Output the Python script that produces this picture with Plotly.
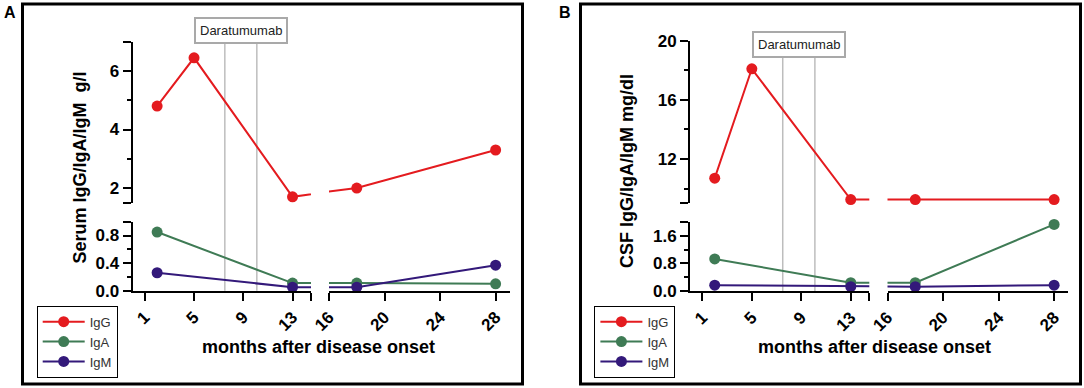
import numpy as np
import plotly.graph_objects as go

# ---------------- data ----------------
igg_months = [2, 5, 13, 18, 28]
iga_months = [2, 13, 18, 28]
igm_months = [2, 13, 18, 28]

serum_igg = [4.8, 6.45, 1.7, 2.0, 3.3]
serum_iga = [0.85, 0.11, 0.11, 0.10]
serum_igm = [0.26, 0.05, 0.05, 0.37]

csf_igg = [10.7, 18.1, 9.25, 9.25, 9.25]
csf_iga = [0.93, 0.24, 0.24, 1.93]
csf_igm = [0.17, 0.125, 0.125, 0.17]

series_names = ["IgG", "IgA", "IgM"]
series_colors = ["#e41b1f", "#3f7b55", "#33197a"]

dara_start, dara_end = 7.5, 10.1
dara_label = "Daratumumab"

x_left_ticks = [1, 5, 9, 13]
x_right_ticks = [16, 20, 24, 28]
x_left_range = [0, 14.5]
x_right_range = [16, 29]

serum_top_ticks = [2, 4, 6]
serum_top_minor = [3, 5]
serum_top_range = [1.5, 7]
serum_bot_ticks = [0.0, 0.4, 0.8]
serum_bot_minor = [0.2, 0.6]
serum_bot_range = [0, 1.0]

csf_top_ticks = [12, 16, 20]
csf_top_minor = [10, 14, 18]
csf_top_range = [9, 20]
csf_bot_ticks = [0.0, 0.8, 1.6]
csf_bot_minor = [0.4, 1.2]
csf_bot_range = [0, 2.0]

x_title = "months after disease onset"
y_titles = ["Serum IgG/IgA/IgM  g/l", "CSF IgG/IgA/IgM mg/dl"]
panel_letters = ["A", "B"]

# ---------------- layout helpers ----------------
W, H = 1084, 388
FONT = "Liberation Sans, Arial, Helvetica, sans-serif"


def fx(p):
    return p / W


def fy(p):
    return 1 - p / H


panels = [
    dict(
        letter=panel_letters[0], ytitle=y_titles[0],
        data=[(igg_months, serum_igg), (iga_months, serum_iga), (igm_months, serum_igm)],
        top=(serum_top_ticks, serum_top_minor, serum_top_range),
        bot=(serum_bot_ticks, serum_bot_minor, serum_bot_range),
        xl=(132.5, 311.0), xr=(329.0, 509.5),
        ytop=(41.7, 202.7), ybot=(221.7, 290.7),
        frame=(22.5, 522.5), box_y=30.3,
        ytitle_x=79.5, ytitle_y=168, xtitle_x=318.5, letter_x=10,
        legend_x=36.7,
    ),
    dict(
        letter=panel_letters[1], ytitle=y_titles[1],
        data=[(igg_months, csf_igg), (iga_months, csf_iga), (igm_months, csf_igm)],
        top=(csf_top_ticks, csf_top_minor, csf_top_range),
        bot=(csf_bot_ticks, csf_bot_minor, csf_bot_range),
        xl=(690.0, 869.3), xr=(887.5, 1068.0),
        ytop=(40.7, 203.3), ybot=(222.0, 291.0),
        frame=(580.5, 1080.5), box_y=44.0,
        ytitle_x=627, ytitle_y=171, xtitle_x=874, letter_x=564.5,
        legend_x=594.4,
    ),
]

fig = go.Figure()
layout = dict(
    width=W, height=H, autosize=False,
    margin=dict(l=0, r=0, t=0, b=0, pad=0, autoexpand=False),
    paper_bgcolor="white", plot_bgcolor="rgba(0,0,0,0)",
    font=dict(family=FONT, color="black"),
    shapes=[], annotations=[],
)

tickfont = dict(family=FONT, size=17, color="black", weight="bold")


def fmt(v, dec):
    return f"{v:.{dec}f}"


for pi, P in enumerate(panels):
    n = pi * 4
    xa = [f"x{n + k}" if n + k > 1 else "x" for k in (1, 2, 3, 4)]
    ya_n = pi * 2
    yb = f"y{ya_n + 1}" if ya_n + 1 > 1 else "y"
    yt = f"y{ya_n + 2}"

    def axkey(a):
        return a.replace("x", "xaxis").replace("y", "yaxis")

    xdl = [fx(P["xl"][0]), fx(P["xl"][1])]
    xdr = [fx(P["xr"][0]), fx(P["xr"][1])]
    ydt = [fy(P["ytop"][1]), fy(P["ytop"][0])]
    ydb = [fy(P["ybot"][1]), fy(P["ybot"][0])]

    common_x = dict(showgrid=False, zeroline=False, showline=True, linecolor="black",
                    linewidth=2, ticks="outside", ticklen=8, tickwidth=2, tickcolor="black",
                    tickangle=-45, tickfont=tickfont, tickmode="array", fixedrange=True,
                    automargin=False)
    layout[axkey(xa[0])] = dict(common_x, domain=xdl, range=x_left_range, anchor=yb,
                                tickvals=x_left_ticks + [x_left_range[1]],
                                ticktext=[str(v) for v in x_left_ticks] + [""])
    layout[axkey(xa[1])] = dict(common_x, domain=xdr, range=x_right_range, anchor=yb,
                                tickvals=x_right_ticks,
                                ticktext=[str(v) for v in x_right_ticks])
    layout[axkey(xa[2])] = dict(domain=xdl, range=x_left_range, anchor=yt, visible=False,
                                fixedrange=True, automargin=False)
    layout[axkey(xa[3])] = dict(domain=xdr, range=x_right_range, anchor=yt, visible=False,
                                fixedrange=True, automargin=False)

    common_y = dict(showgrid=False, zeroline=False, showline=True, linecolor="black",
                    linewidth=2, ticks="outside", ticklen=8, tickwidth=2, tickcolor="black",
                    tickfont=tickfont, tickmode="array", fixedrange=True, automargin=False)
    bt, bm, br = P["bot"]
    tt, tm, tr = P["top"]
    layout[axkey(yb)] = dict(common_y, domain=ydb, range=br, anchor=xa[0],
                             tickvals=bt + [br[1]], ticktext=[fmt(v, 1) for v in bt] + [""],
                             minor=dict(tickmode="array", tickvals=bm, ticks="outside",
                                        ticklen=4, tickwidth=2, tickcolor="black"))
    layout[axkey(yt)] = dict(common_y, domain=ydt, range=tr, anchor=xa[2],
                             tickvals=[tr[0]] + tt + ([tr[1]] if tr[1] not in tt else []),
                             ticktext=[""] + [fmt(v, 0) for v in tt] + ([""] if tr[1] not in tt else []),
                             minor=dict(tickmode="array", tickvals=tm, ticks="outside",
                                        ticklen=4, tickwidth=2, tickcolor="black"))

    subplots = [
        (xa[0], yb, x_left_range, br),
        (xa[1], yb, x_right_range, br),
        (xa[2], yt, x_left_range, tr),
        (xa[3], yt, x_right_range, tr),
    ]
    legend_name = "legend" if pi == 0 else "legend2"

    for (sx, sy, xr_, yr_) in subplots:
        for si, (xs, ys) in enumerate(P["data"]):
            col = series_colors[si]
            fig.add_trace(go.Scatter(x=xs, y=ys, mode="lines", xaxis=sx, yaxis=sy,
                                     line=dict(color=col, width=2), showlegend=False,
                                     hoverinfo="skip"))
        for si, (xs, ys) in enumerate(P["data"]):
            col = series_colors[si]
            xs_a, ys_a = np.array(xs, float), np.array(ys, float)
            m = (xs_a >= xr_[0]) & (xs_a <= xr_[1]) & (ys_a >= yr_[0]) & (ys_a <= yr_[1])
            fig.add_trace(go.Scatter(x=xs_a[m], y=ys_a[m], mode="markers", xaxis=sx, yaxis=sy,
                                     marker=dict(color=col, size=11), cliponaxis=False,
                                     showlegend=False, name=series_names[si]))

    for si, name in enumerate(series_names):
        fig.add_trace(go.Scatter(x=[None], y=[None], mode="lines+markers", name=name,
                                 xaxis=xa[0], yaxis=yb, legend=legend_name,
                                 line=dict(color=series_colors[si], width=2),
                                 marker=dict(color=series_colors[si], size=11)))

    layout[legend_name] = dict(x=fx(P["legend_x"]), y=fy(341.7), xanchor="left", yanchor="middle",
                               bordercolor="black", borderwidth=1, bgcolor="white",
                               font=dict(family=FONT, size=13, color="#333"),
                               itemwidth=42, tracegroupgap=0)

    # frame
    layout["shapes"].append(dict(type="rect", xref="paper", yref="paper",
                                 x0=fx(P["frame"][0]), x1=fx(P["frame"][1]),
                                 y0=fy(384), y1=fy(4), line=dict(color="black", width=3)))
    # daratumumab lines
    box_bottom = P["box_y"] + 13.5
    for xv in (dara_start, dara_end):
        layout["shapes"].append(dict(type="line", xref=xa[0], yref="paper", x0=xv, x1=xv,
                                     y0=fy(P["ybot"][1]), y1=fy(box_bottom),
                                     line=dict(color="#bdbdbd", width=1.5), layer="below"))
    layout["annotations"].append(dict(
        xref=xa[0], yref="paper", x=(dara_start + dara_end) / 2, y=fy(P["box_y"]),
        text=dara_label, showarrow=False, xanchor="center", yanchor="middle",
        bordercolor="#a9a9a9", borderwidth=2, borderpad=4, bgcolor="white",
        font=dict(family=FONT, size=13, color="#222")))
    # titles
    layout["annotations"].append(dict(
        xref="paper", yref="paper", x=fx(P["ytitle_x"]), y=fy(P["ytitle_y"]),
        text=P["ytitle"], textangle=-90, showarrow=False, xanchor="center", yanchor="middle",
        font=dict(family=FONT, size=18, color="black", weight="bold")))
    layout["annotations"].append(dict(
        xref="paper", yref="paper", x=fx(P["xtitle_x"]), y=fy(347),
        text=x_title, showarrow=False, xanchor="center", yanchor="middle",
        font=dict(family=FONT, size=18, color="black", weight="bold")))
    layout["annotations"].append(dict(
        xref="paper", yref="paper", x=fx(P["letter_x"]), y=fy(13),
        text=P["letter"], showarrow=False, xanchor="center", yanchor="middle",
        font=dict(family=FONT, size=16, color="black", weight="bold")))

fig.update_layout(**layout)
fig.write_html("out.html", config={"displayModeBar": False},
               post_script="document.body.style.margin='0';")
